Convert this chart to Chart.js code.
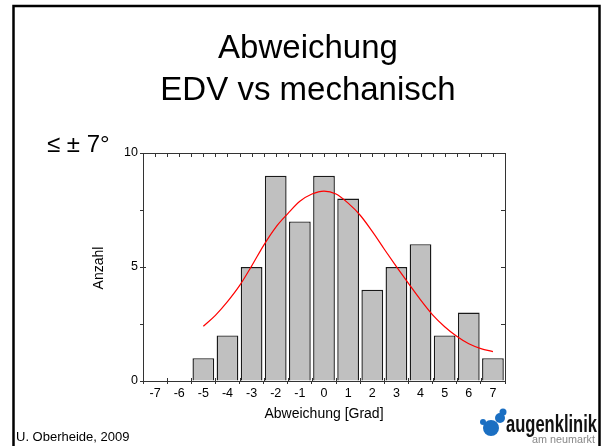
<!DOCTYPE html>
<html><head><meta charset="utf-8">
<script src="https://cdn.jsdelivr.net/npm/chart.js@4"></script>
<style>html,body{margin:0;padding:0;background:#fff}#wrap{position:relative;width:602px;height:446px}</style>
</head><body><div id="wrap"><canvas id="c" width="602" height="446"></canvas></div>
<script>
const binCenters = [-7,-6,-5,-4,-3,-2,-1,0,1,2,3,4,5,6,7];
const counts     = [0,0,1,2,5,9,7,9,8,4,5,6,2,3,1];
const curveX = [-5,-4.5,-4,-3.5,-3,-2.5,-2,-1.5,-1,-0.5,0,0.5,1,1.5,2,2.5,3,3.5,4,4.5,5,5.5,6,6.5,7];
const curveY = [2.4,2.88,3.48,4.18,5.04,5.95,6.74,7.34,7.88,8.2,8.33,8.2,7.8,7.27,6.56,5.78,5.02,4.28,3.56,2.9,2.38,1.96,1.63,1.42,1.29];
const xTickLabels = [-7,-6,-5,-4,-3,-2,-1,0,1,2,3,4,5,6,7];
const yTickLabels = [0,5,10];
const yTickMarks = [0,2.5,5,7.5,10];
const titleLines = ['Abweichung','EDV vs mechanisch'];

const FF = "'Liberation Sans', Arial, sans-serif";
const AX = '#333';

const decor = {
  id:'decor',
  afterDatasetsDraw(chart){
    const c = chart.ctx, xs = chart.scales.x, ys = chart.scales.y, a = chart.chartArea;
    c.save();
    c.strokeStyle = AX; c.lineWidth = 1;
    c.beginPath();
    for (let v = -7.5; v <= 7.5001; v += 0.5){
      const px = Math.round(xs.getPixelForValue(v)) + 0.5;
      c.moveTo(px, a.top); c.lineTo(px, a.top + 4);
    }
    for (let v = -7.5; v <= 7.5001; v += 1){
      const px = Math.round(xs.getPixelForValue(v)) + 0.5;
      c.moveTo(px, a.bottom); c.lineTo(px, a.bottom - 3);
    }
    yTickMarks.forEach(v => {
      const py = Math.round(ys.getPixelForValue(v)) + 0.5;
      c.moveTo(a.right, py); c.lineTo(a.right - 4, py);
    });
    yTickLabels.forEach(v => {
      const py = Math.round(ys.getPixelForValue(v)) + 0.5;
      c.moveTo(a.left, py); c.lineTo(a.left + 3, py);
    });
    c.stroke();
    c.restore();
  },
  afterDraw(chart){
    const c = chart.ctx;
    c.save();
    c.strokeStyle = '#000'; c.lineWidth = 2.5;
    c.strokeRect(13.5, 6, 586, 460);
    c.fillStyle = '#000';
    c.textAlign = 'center'; c.textBaseline = 'alphabetic';
    c.font = `33px ${FF}`;
    c.fillText(titleLines[0], 308, 58);
    c.fillText(titleLines[1], 308, 100);
    c.textAlign = 'left';
    c.font = `24px ${FF}`;
    c.fillText('≤ ± 7°', 47, 152);
    c.font = `14px ${FF}`;
    c.textAlign = 'center'; c.textBaseline = 'middle';
    c.fillText('Abweichung [Grad]', 324, 414);
    c.save();
    c.translate(99, 268); c.rotate(-Math.PI/2);
    c.fillText('Anzahl', 0, 0);
    c.restore();
    c.textAlign = 'left';
    c.font = `13px ${FF}`;
    c.fillText('U. Oberheide, 2009', 16, 437);
    // logo
    c.fillStyle = '#1b6fc2';
    c.beginPath(); c.arc(491, 428, 8, 0, Math.PI*2); c.fill();
    c.beginPath(); c.arc(500, 418, 5, 0, Math.PI*2); c.fill();
    c.beginPath(); c.arc(503, 412, 3.5, 0, Math.PI*2); c.fill();
    c.beginPath(); c.arc(483, 422, 3, 0, Math.PI*2); c.fill();
    c.fillStyle = '#111';
    c.textBaseline = 'alphabetic';
    c.font = `bold 24px ${FF}`;
    let w = c.measureText('augenklinik').width;
    c.save(); c.translate(506, 432); c.scale(91 / w, 1); c.fillText('augenklinik', 0, 0); c.restore();
    c.fillStyle = '#888';
    c.font = `10px ${FF}`;
    w = c.measureText('am neumarkt').width;
    c.save(); c.translate(532, 443); c.scale(63 / w, 1); c.fillText('am neumarkt', 0, 0); c.restore();
    c.restore();
  }
};

new Chart(document.getElementById('c'), {
  type: 'bar',
  data: { datasets: [
    { type:'line', data: curveX.map((x,i)=>({x, y:curveY[i]})), borderColor:'#ff0000', borderWidth:1.2,
      pointRadius:0, cubicInterpolationMode:'monotone', fill:false, order:0 },
    { type:'bar', data: binCenters.map((x,i)=>({x, y:counts[i]})), backgroundColor:'#c0c0c0',
      borderColor:'#1a1a1a', borderWidth:1.4, barPercentage:0.9, categoryPercentage:1, order:1 }
  ]},
  options: {
    responsive:false, animation:false, events:[],
    layout:{padding:{left:115, top:153, right:97, bottom:35}},
    plugins:{legend:{display:false}, tooltip:{enabled:false}},
    scales:{
      x:{type:'linear', position:'bottom', min:-7.5, max:7.5, offset:false,
        afterBuildTicks: a => { a.ticks = xTickLabels.map(v=>({value:v})); },
        afterFit: a => { a.height = 30; },
        grid:{offset:true, drawOnChartArea:false, tickLength:3, color:AX},
        border:{color:AX, width:1},
        ticks:{color:'#000', font:{family:FF, size:12.5}, padding:2, maxRotation:0, autoSkip:false,
          callback: v => String(v)}
      },
      x2:{type:'linear', position:'top', min:-7.5, max:7.5, offset:false,
        afterFit: a => { a.height = 0; },
        grid:{drawOnChartArea:false, drawTicks:false},
        border:{color:AX, width:1}, ticks:{display:false}
      },
      y:{type:'linear', position:'left', min:0, max:10,
        afterBuildTicks: a => { a.ticks = yTickMarks.map(v=>({value:v})); },
        afterFit: a => { a.width = 28; },
        grid:{drawOnChartArea:false, tickLength:3, color:AX},
        border:{color:AX, width:1},
        ticks:{color:'#000', font:{family:FF, size:12.5}, padding:2,
          callback: v => yTickLabels.includes(v) ? String(v) : ''}
      },
      y2:{type:'linear', position:'right', min:0, max:10,
        afterFit: a => { a.width = 0; },
        grid:{drawOnChartArea:false, drawTicks:false},
        border:{color:AX, width:1}, ticks:{display:false}
      }
    }
  },
  plugins:[decor]
});
</script>
</body></html>
